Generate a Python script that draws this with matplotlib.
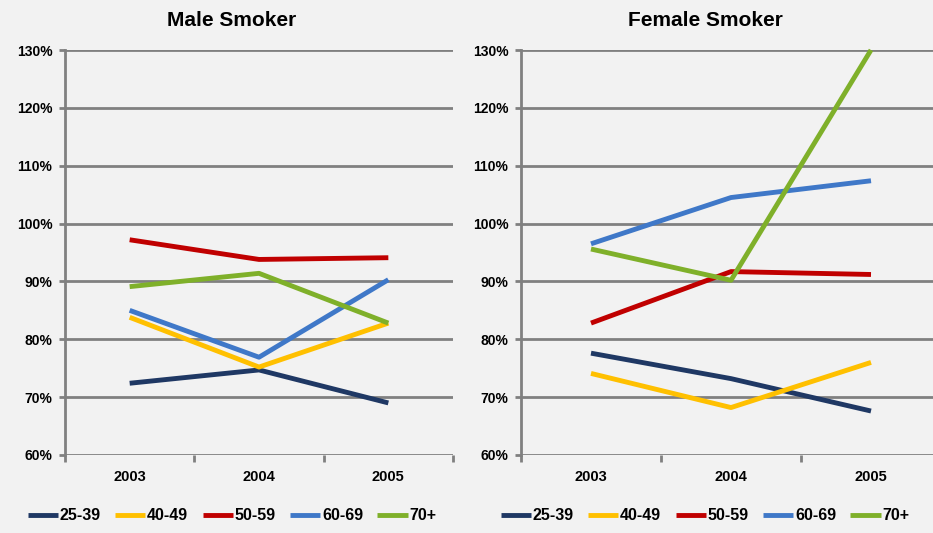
import numpy as np
import matplotlib.pyplot as plt
from matplotlib.ticker import FuncFormatter

plt.rcParams['font.family'] = ['Liberation Sans', 'DejaVu Sans']
plt.rcParams['font.weight'] = 'bold'

years = ['2003', '2004', '2005']
groups = ['25-39', '40-49', '50-59', '60-69', '70+']
colors = ['#1F3864', '#FFC000', '#C00000', '#3F78C8', '#7FB02A']

# percent values per age group
male = {
    '25-39': [72.4, 74.7, 69.0],
    '40-49': [83.8, 75.2, 82.8],
    '50-59': [97.2, 93.8, 94.1],
    '60-69': [85.0, 76.9, 90.3],
    '70+':   [89.1, 91.4, 82.8],
}
female = {
    '25-39': [77.6, 73.2, 67.6],
    '40-49': [74.1, 68.2, 76.0],
    '50-59': [82.8, 91.7, 91.2],
    '60-69': [96.5, 104.5, 107.4],
    '70+':   [95.6, 90.2, 130.0],
}

bg = '#F2F2F2'
grid = '#808080'
W, H = 933, 533

fig = plt.figure(figsize=(W / 100, H / 100), dpi=100, facecolor=bg)


def panel(rect, data, title, tx, leg_x):
    ax = fig.add_axes(rect, facecolor=bg)
    x = np.arange(len(years))
    lines = []
    for g, c in zip(groups, colors):
        ln, = ax.plot(x, data[g], color=c, lw=3.5, solid_capstyle='butt', label=g,
                      clip_on=False, zorder=3)
        lines.append(ln)
    ax.set_xlim(-0.5, 2.5)
    ax.set_ylim(60, 130)
    ax.set_yticks(np.arange(60, 131, 10))
    ax.yaxis.set_major_formatter(FuncFormatter(lambda v, p: f'{v:.0f}%'))
    ax.set_xticks(x)
    ax.set_xticklabels(years)
    ax.set_xticks([-0.5, 0.5, 1.5, 2.5], minor=True)
    ax.tick_params(axis='x', which='major', length=0, pad=11, labelsize=10.5)
    ax.tick_params(axis='x', which='minor', length=5, width=2, color=grid)
    ax.tick_params(axis='y', length=4, width=2, color=grid, pad=5, labelsize=10)
    ax.grid(axis='y', color=grid, lw=2, zorder=1)
    for s in ['top', 'right', 'bottom']:
        ax.spines[s].set_visible(False)
    ax.spines['left'].set_color(grid)
    ax.spines['left'].set_linewidth(2)
    fig.text(tx / W, 1 - 20 / H, title, ha='center', va='center',
             fontsize=15, fontweight='bold')
    fig.legend(handles=lines, loc='center', bbox_to_anchor=(leg_x / W, 1 - 516 / H),
               ncol=5, frameon=False, handlelength=1.9, handletextpad=0.1,
               columnspacing=0.9, fontsize=11.5)
    return ax


panel([65 / W, 78 / H, 388 / W, 405 / H], male, 'Male Smoker', 232, 232)
panel([521 / W, 78 / H, 420 / W, 405 / H], female, 'Female Smoker', 705, 705)

fig.savefig('out.png', dpi=100, facecolor=bg)
